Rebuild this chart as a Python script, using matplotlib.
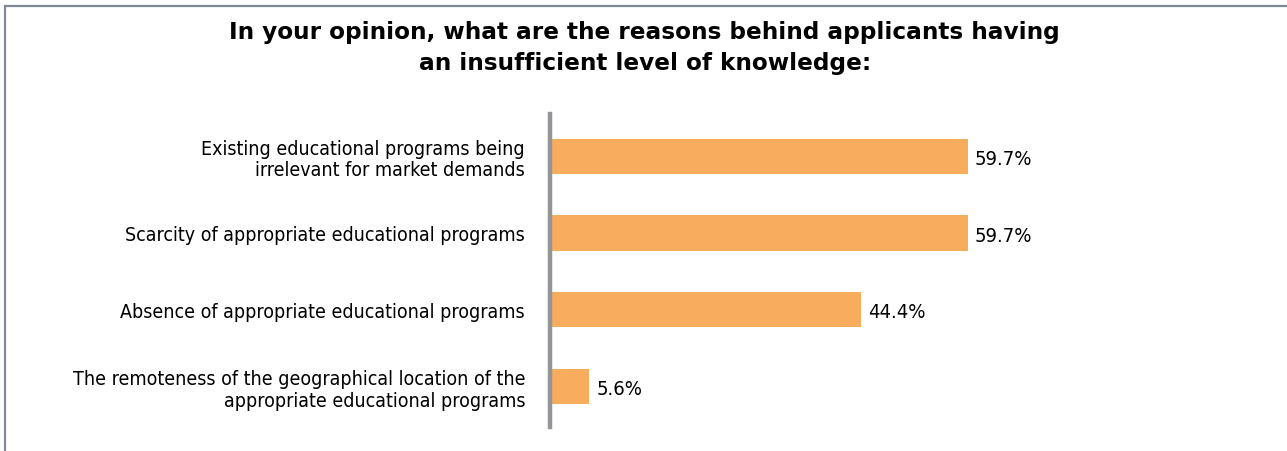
import matplotlib.pyplot as plt
from matplotlib.patches import Rectangle

# reasons and share of respondents (%)
reasons = [
    'Existing educational programs being\nirrelevant for market demands',
    'Scarcity of appropriate educational programs',
    'Absence of appropriate educational programs',
    'The remoteness of the geographical location of the\nappropriate educational programs',
]
shares = [59.7, 59.7, 44.4, 5.6]

bar_color = '#f8ad5e'
axis_color = '#939598'

fig = plt.figure(figsize=(12.87, 4.52), dpi=100)

# frame around the chart (only top/left edges fall inside the image)
fig.patches.append(Rectangle((0.0039, -0.05), 1.2, 0.9845 + 0.05, transform=fig.transFigure,
                             fill=False, edgecolor='#7f8a99', linewidth=1.6))

fig.text(0.501, 0.953, 'In your opinion, what are the reasons behind applicants having\n'
         'an insufficient level of knowledge:', ha='center', va='top',
         fontsize=16.7, fontweight='bold', family='DejaVu Sans', linespacing=1.45)

ax = fig.add_axes([0.4274, 0.0531, 0.5439, 0.6925])
pos = list(range(len(reasons)))
ax.barh(pos, shares, height=0.46, color=bar_color, left=0)
for p, v in zip(pos, shares):
    ax.text(v + 1.0, p + 0.03, f'{v}%', va='center', ha='left', fontsize=14.5,
            family='DejaVu Sans', fontstretch='condensed')

ax.set_xlim(0, 100)
ax.set_ylim(3.53, -0.55)
ax.set_yticks(pos)
ax.set_yticklabels(reasons, fontsize=14, family='DejaVu Sans', fontstretch='condensed',
                   ha='right', linespacing=1.15)
ax.tick_params(axis='y', length=0, pad=18)
ax.set_xticks([])
for side in ['top', 'right', 'bottom']:
    ax.spines[side].set_visible(False)
ax.spines['left'].set_color(axis_color)
ax.spines['left'].set_linewidth(3.2)

fig.savefig('out.png', dpi=100)
